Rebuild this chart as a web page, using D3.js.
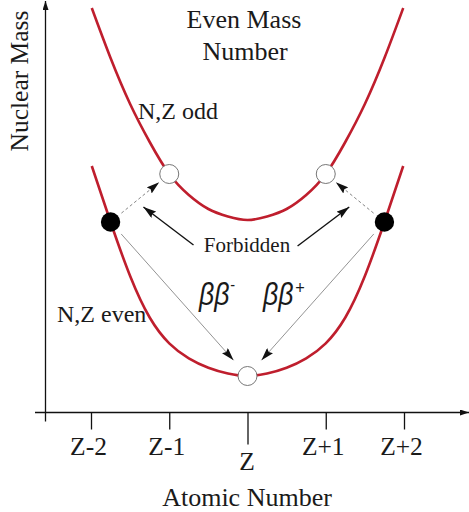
<!DOCTYPE html>
<html>
<head>
<meta charset="utf-8">
<script src="https://cdn.jsdelivr.net/npm/d3@7"></script>
<style>
  body { margin: 0; background: #fff; }
  text { font-family: "Liberation Serif", "Times New Roman", serif; fill: #1a1a1a; }
</style>
</head>
<body>
<div id="chart"></div>
<script>
// Mass parabolas for an even mass number

var svgWidth = 469;
var svgHeight = 512;

// Z offsets and the masses (arbitrary units)
var zOffsets = [-1.99, -1.75, -1.5, -1.25, -1, -0.75, -0.5, -0.25, 0, 0.25, 0.5, 0.75, 1, 1.25, 1.5, 1.75, 1.99];
var oddMass  = [40.4, 35.4, 30.8, 27.0, 23.8, 21.7, 20.3, 19.55, 19.2, 19.55, 20.3, 21.7, 23.8, 27.0, 30.8, 35.4, 40.4];
var evenMass = [24.6, 19.0, 13.6, 9.45, 6.87, 5.37, 4.43, 3.85, 3.6, 3.85, 4.43, 5.37, 6.87, 9.45, 13.6, 19.0, 24.6];

// tick labels
var tickZ = [-2, -1, 0, 1, 2];
var tickLabels = ["Z-2", "Z-1", "Z", "Z+1", "Z+2"];

// nuclei drawn on the curves
var filledZ = [-1.75, 1.75];   // on N,Z even
var oddOpenZ = [-1, 1];        // on N,Z odd
var evenOpenZ = [0];           // on N,Z even

// "Forbidden" pointers in data units [z1, m1, z2, m2]
var forbiddenArrows = [[-0.69, 16.7, -1.33, 20.5], [0.64, 16.6, 1.3, 20.5]];

var red = "#bf1e2d";

var svg = d3.select("#chart")
  .append("svg")
  .attr("width", svgWidth)
  .attr("height", svgHeight);

var x = d3.scaleLinear().domain([-2, 2]).range([91, 404]);
var y = d3.scaleLinear().domain([0, 41]).range([412, 2]);

function massAt(z, series) {
  return series[zOffsets.indexOf(z)];
}

// arrow heads
var defs = svg.append("defs");
defs.append("marker")
  .attr("id", "head")
  .attr("viewBox", "0 0 13 8")
  .attr("refX", 13).attr("refY", 4)
  .attr("markerWidth", 13).attr("markerHeight", 8)
  .attr("markerUnits", "userSpaceOnUse")
  .attr("orient", "auto")
  .append("path")
  .attr("d", "M0,0 L13,4 L0,8 L2,4 Z")
  .attr("fill", "#111");
defs.append("marker")
  .attr("id", "axisHead")
  .attr("viewBox", "0 0 9 6")
  .attr("refX", 9).attr("refY", 3)
  .attr("markerWidth", 9).attr("markerHeight", 6)
  .attr("markerUnits", "userSpaceOnUse")
  .attr("orient", "auto")
  .append("path")
  .attr("d", "M0,0 L9,3 L0,6 Z")
  .attr("fill", "#111");

// axes
var y0 = y(0) + 0.5;
var axisX = 45.5;
svg.append("line")
  .attr("x1", 35).attr("y1", y0)
  .attr("x2", 469).attr("y2", y0)
  .attr("stroke", "#111").attr("stroke-width", 1.3)
  .attr("marker-end", "url(#axisHead)");
svg.append("line")
  .attr("x1", axisX).attr("y1", y0 + 9)
  .attr("x2", axisX).attr("y2", 1)
  .attr("stroke", "#111").attr("stroke-width", 1.3)
  .attr("marker-end", "url(#axisHead)");

var bottomAxis = d3.axisBottom(x)
  .tickValues(tickZ)
  .tickFormat(function(d, i) { return tickLabels[i]; })
  .tickSize(17)
  .tickSizeOuter(0);

var xAxis = svg.append("g")
  .attr("transform", "translate(0," + y0 + ")")
  .call(bottomAxis);
xAxis.select(".domain").remove();
xAxis.selectAll(".tick line")
  .attr("stroke", "#111").attr("stroke-width", 1.3)
  .attr("y2", function(d) { return d === 0 ? 32 : 17; });
xAxis.selectAll(".tick text")
  .attr("fill", "#1a1a1a")
  .style("font-family", '"Liberation Serif", "Times New Roman", serif')
  .style("font-size", "25.5px")
  .attr("dy", null)
  .attr("dx", function(d) { return d === 0 ? -1 : -3; })
  .attr("y", function(d) { return d === 0 ? 57 : 42; });

// curves
var line = d3.line()
  .x(function(d) { return x(d[0]); })
  .y(function(d) { return y(d[1]); })
  .curve(d3.curveNatural);

[oddMass, evenMass].forEach(function(series) {
  svg.append("path")
    .datum(zOffsets.map(function(z, i) { return [z, series[i]]; }))
    .attr("d", line)
    .attr("fill", "none")
    .attr("stroke", red)
    .attr("stroke-width", 2.6);
});

// transition arrows, shortened at both ends
function arrow(z1, m1, z2, m2, cut1, cut2, style) {
  var px1 = x(z1), py1 = y(m1), px2 = x(z2), py2 = y(m2);
  var dx = px2 - px1, dy = py2 - py1;
  var len = Math.sqrt(dx * dx + dy * dy);
  var ux = dx / len, uy = dy / len;
  svg.append("line")
    .attr("x1", px1 + ux * cut1).attr("y1", py1 + uy * cut1)
    .attr("x2", px2 - ux * cut2).attr("y2", py2 - uy * cut2)
    .attr("stroke", style.color)
    .attr("stroke-width", style.width)
    .attr("stroke-dasharray", style.dash || null)
    .attr("marker-end", "url(#head)");
}

var dashed = { color: "#777", width: 0.9, dash: "3,2.5" };
var thin = { color: "#777", width: 0.8 };
var solid = { color: "#111", width: 1.4 };

filledZ.forEach(function(z, i) {
  arrow(z, massAt(z, evenMass), oddOpenZ[i], massAt(oddOpenZ[i], oddMass), 14, 13, dashed);
  arrow(z, massAt(z, evenMass), evenOpenZ[0], massAt(evenOpenZ[0], evenMass), 16, 21, thin);
});
forbiddenArrows.forEach(function(a) {
  arrow(a[0], a[1], a[2], a[3], 0, 0, solid);
});

// nuclei
svg.selectAll(".odd-open")
  .data(oddOpenZ)
  .enter().append("circle")
  .attr("cx", function(d) { return x(d); })
  .attr("cy", function(d) { return y(massAt(d, oddMass)); })
  .attr("r", 9.5)
  .attr("fill", "#fff").attr("stroke", "#777").attr("stroke-width", 1);

svg.selectAll(".even-open")
  .data(evenOpenZ)
  .enter().append("circle")
  .attr("cx", function(d) { return x(d); })
  .attr("cy", function(d) { return y(massAt(d, evenMass)); })
  .attr("r", 9.5)
  .attr("fill", "#fff").attr("stroke", "#777").attr("stroke-width", 1);

svg.selectAll(".filled")
  .data(filledZ)
  .enter().append("circle")
  .attr("cx", function(d) { return x(d); })
  .attr("cy", function(d) { return y(massAt(d, evenMass)); })
  .attr("r", 9.7)
  .attr("fill", "#000");

// texts
svg.append("text")
  .attr("x", 244).attr("y", 28)
  .attr("text-anchor", "middle")
  .style("font-size", "26px")
  .text("Even Mass");
svg.append("text")
  .attr("x", 245).attr("y", 60)
  .attr("text-anchor", "middle")
  .style("font-size", "26px")
  .text("Number");

svg.append("text")
  .attr("x", 138).attr("y", 119)
  .style("font-size", "24px")
  .text("N,Z odd");
svg.append("text")
  .attr("x", 57).attr("y", 322)
  .style("font-size", "24px")
  .text("N,Z even");

svg.append("text")
  .attr("x", 247).attr("y", 252)
  .attr("text-anchor", "middle")
  .style("font-size", "21px")
  .text("Forbidden");

// double beta labels, narrowed a little to look like the slim original
var betaFont = '"Liberation Sans", sans-serif';

var bbMinus = svg.append("text")
  .attr("transform", "translate(199,305) scale(0.86,1)")
  .style("font-size", "31px")
  .style("font-style", "italic")
  .style("font-family", betaFont)
  .attr("fill", "#3a3a3a");
bbMinus.append("tspan").text("ββ");
bbMinus.append("tspan")
  .attr("dy", -15).attr("dx", 1)
  .style("font-size", "17px").style("font-style", "normal")
  .text("-");

var bbPlus = svg.append("text")
  .attr("transform", "translate(263,305) scale(0.86,1)")
  .style("font-size", "31px")
  .style("font-style", "italic")
  .style("font-family", betaFont)
  .attr("fill", "#3a3a3a");
bbPlus.append("tspan").text("ββ");
bbPlus.append("tspan")
  .attr("dy", -11).attr("dx", 2)
  .style("font-size", "19px").style("font-style", "normal")
  .text("+");

svg.append("text")
  .attr("transform", "translate(28,81) rotate(-90)")
  .attr("text-anchor", "middle")
  .style("font-size", "25.5px")
  .text("Nuclear Mass");

svg.append("text")
  .attr("x", 247).attr("y", 506)
  .attr("text-anchor", "middle")
  .style("font-size", "26px")
  .text("Atomic Number");
</script>
</body>
</html>
